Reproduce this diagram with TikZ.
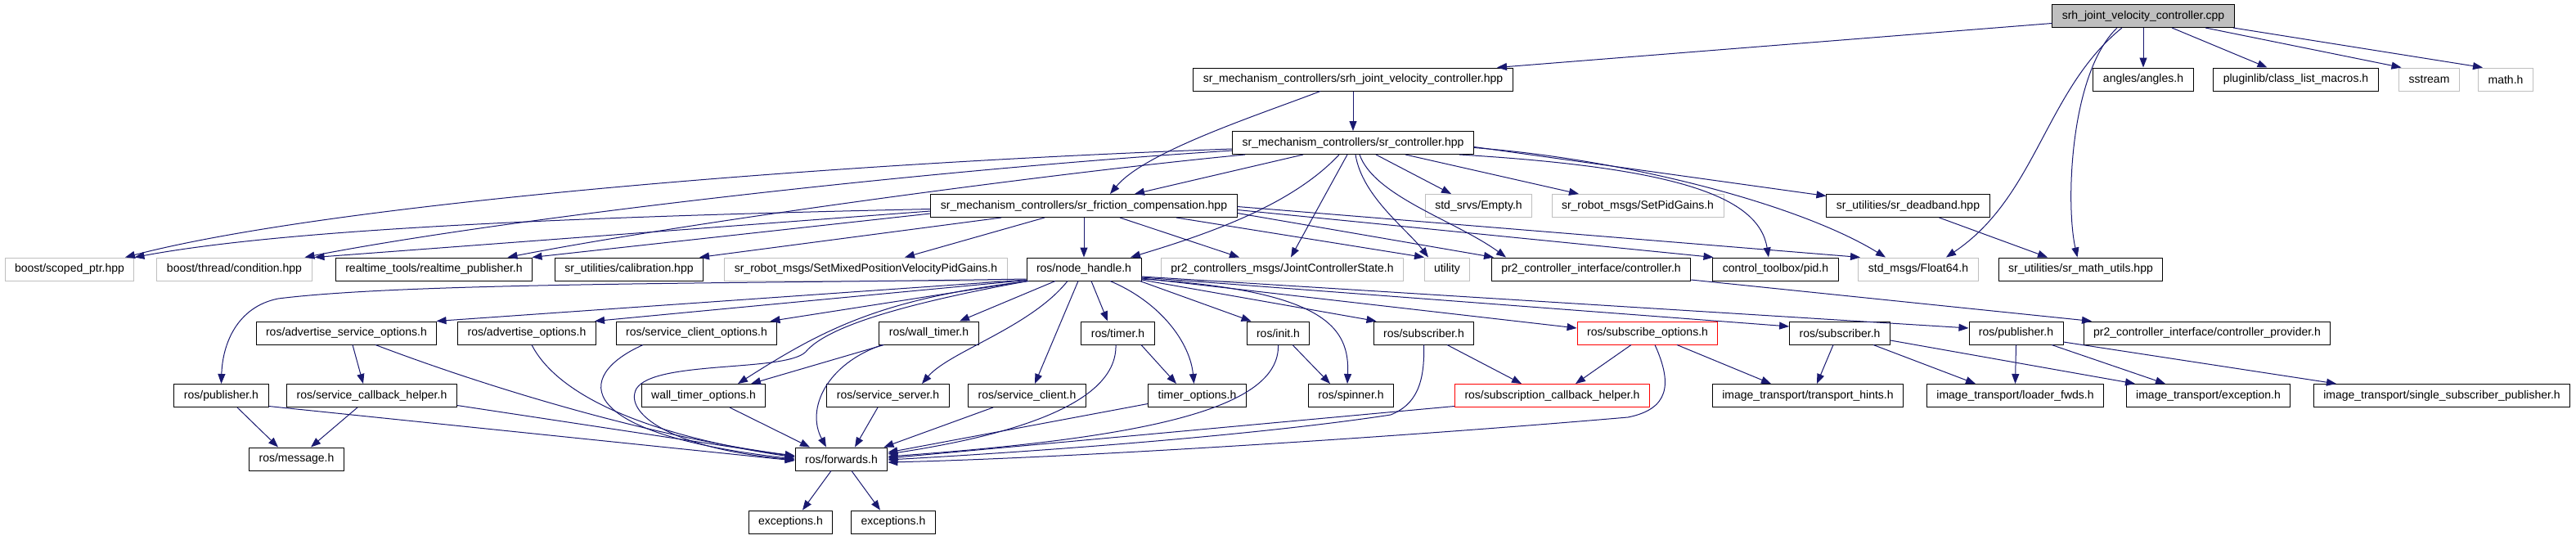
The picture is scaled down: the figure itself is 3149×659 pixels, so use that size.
\documentclass[tikz,border=0pt]{standalone}
\usepackage{fontspec}
\setmainfont{Liberation Sans}
\usetikzlibrary{arrows.meta,positioning}

\definecolor{edgeblue}{HTML}{191970}
\definecolor{missgray}{HTML}{BFBFBF}

\tikzset{
  hfile/.style={draw=black,line width=1pt,minimum height=28pt,inner xsep=12pt,inner ysep=0pt,font=\fontsize{14}{16}\selectfont},
  sysfile/.style={hfile,draw=missgray},
  badfile/.style={hfile,draw=red},
  mainfile/.style={hfile,fill=missgray},
  dep/.style={->,draw=edgeblue,line width=1pt}
}

\begin{document}
\begin{tikzpicture}[x=1pt,y=-1pt,>={Triangle[length=12pt,width=9pt]}]
    \path[fill=white] (0,0) rectangle (3149,659);

    % row 1 and 2
    \node[mainfile] (cpp) at (2620,19.5) {srh\_joint\_velocity\_controller.cpp};
    \node[hfile] (jvchpp) at (1654,97) {sr\_mechanism\_controllers/srh\_joint\_velocity\_controller.hpp};
    \node[hfile] (angles) at (2620,97) {angles/angles.h};
    \node[hfile] (pluginlib) at (2806.5,97) {pluginlib/class\_list\_macros.h};
    \node[sysfile] (sstream) at (2969.5,97) {sstream};
    \node[sysfile] (mathh) at (3063,97) {math.h};

    % row 3 and 4
    \node[hfile] (srctrl) at (1654,174.5) {sr\_mechanism\_controllers/sr\_controller.hpp};
    \node[hfile] (friction) at (1325,251.5) {sr\_mechanism\_controllers/sr\_friction\_compensation.hpp};
    \node[sysfile] (empty) at (1807.5,251.5) {std\_srvs/Empty.h};
    \node[sysfile] (setpid) at (2002,251.5) {sr\_robot\_msgs/SetPidGains.h};
    \node[hfile] (deadband) at (2332.5,251.5) {sr\_utilities/sr\_deadband.hpp};

    % row 5
    \node[sysfile] (scoped) at (85,329) {boost/scoped\_ptr.hpp};
    \node[sysfile] (condition) at (286.5,329) {boost/thread/condition.hpp};
    \node[hfile] (rtpub) at (530.5,329) {realtime\_tools/realtime\_publisher.h};
    \node[hfile] (calib) at (769,329) {sr\_utilities/calibration.hpp};
    \node[sysfile] (setmixed) at (1058.5,329) {sr\_robot\_msgs/SetMixedPositionVelocityPidGains.h};
    \node[hfile] (nh) at (1325,329) {ros/node\_handle.h};
    \node[sysfile] (jcs) at (1567.5,329) {pr2\_controllers\_msgs/JointControllerState.h};
    \node[sysfile] (utility) at (1769,329) {utility};
    \node[hfile] (ctrl) at (1945,329) {pr2\_controller\_interface/controller.h};
    \node[hfile] (pid) at (2170.5,329) {control\_toolbox/pid.h};
    \node[sysfile] (float) at (2345,329) {std\_msgs/Float64.h};
    \node[hfile] (mathutils) at (2543.5,329) {sr\_utilities/sr\_math\_utils.hpp};

    % row 6
    \node[hfile] (advsrvopt) at (423.5,407) {ros/advertise\_service\_options.h};
    \node[hfile] (advopt) at (644,407) {ros/advertise\_options.h};
    \node[hfile] (srvcliopt) at (851.5,407) {ros/service\_client\_options.h};
    \node[hfile] (walltimer) at (1135.5,407) {ros/wall\_timer.h};
    \node[hfile] (timer) at (1366.5,407) {ros/timer.h};
    \node[hfile] (init) at (1562.5,407) {ros/init.h};
    \node[hfile] (sub1) at (1740.5,407) {ros/subscriber.h};
    \node[badfile] (subopt) at (2014,407) {ros/subscribe\_options.h};
    \node[hfile] (sub2) at (2249,407) {ros/subscriber.h};
    \node[hfile] (pub2) at (2464.5,407) {ros/publisher.h};
    \node[hfile] (ctrlprov) at (2698,407) {pr2\_controller\_interface/controller\_provider.h};

    % row 7
    \node[hfile] (pub1) at (270.5,483.5) {ros/publisher.h};
    \node[hfile] (srvcb) at (454.5,483.5) {ros/service\_callback\_helper.h};
    \node[hfile] (wtopt) at (860,483.5) {wall\_timer\_options.h};
    \node[hfile] (srvsrv) at (1085.5,483.5) {ros/service\_server.h};
    \node[hfile] (srvcli) at (1255.5,483.5) {ros/service\_client.h};
    \node[hfile] (tmopt) at (1463.5,483.5) {timer\_options.h};
    \node[hfile] (spinner) at (1651.5,483.5) {ros/spinner.h};
    \node[badfile] (subcb) at (1897.5,483.5) {ros/subscription\_callback\_helper.h};
    \node[hfile] (hints) at (2210,483.5) {image\_transport/transport\_hints.h};
    \node[hfile] (loader) at (2463.5,483.5) {image\_transport/loader\_fwds.h};
    \node[hfile] (exc) at (2699.5,483.5) {image\_transport/exception.h};
    \node[hfile] (ssp) at (2985,483.5) {image\_transport/single\_subscriber\_publisher.h};

    % row 8 and 9
    \node[hfile] (message) at (362.5,561) {ros/message.h};
    \node[hfile] (fwd) at (1028.5,561) {ros/forwards.h};
    \node[hfile] (exc1) at (966.5,638) {exceptions.h};
    \node[hfile] (exc2) at (1092,638) {exceptions.h};

    % srh_joint_velocity_controller.cpp
    \draw[dep] ([yshift=-9]cpp.west) -- ([xshift=176]jvchpp.north);
    \draw[dep] (cpp.south) -- (angles.north);
    \draw[dep] ([xshift=35]cpp.south) -- ([xshift=-35]pluginlib.north);
    \draw[dep] ([xshift=76]cpp.south) -- ([xshift=-34]sstream.north);
    \draw[dep] ([xshift=110]cpp.south) -- ([xshift=-28]mathh.north);
    \draw[dep] ([xshift=-26]cpp.south) .. controls (2500,110) and (2490,240) .. ([xshift=34]float.north);
    \draw[dep] ([xshift=-32]cpp.south) .. controls (2530,90) and (2525,250) .. ([xshift=-4]mathutils.north);

    % srh_joint_velocity_controller.hpp
    \draw[dep] (jvchpp.south) -- (srctrl.north);
    \draw[dep] ([xshift=-40]jvchpp.south) .. controls (1540,140) and (1400,185) .. ([xshift=32]friction.north);

    % sr_controller.hpp
    \draw[dep] ([yshift=-7.5]srctrl.west) .. controls (1000,200) and (400,250) .. ([xshift=68]scoped.north);
    \draw[dep] ([yshift=-9.5]srctrl.west) .. controls (1100,210) and (600,270) .. ([xshift=86]condition.north);
    \draw[dep] ([xshift=-132]srctrl.south) .. controls (1300,210) and (850,270) .. ([xshift=90]rtpub.north);
    \draw[dep] ([xshift=-61]srctrl.south) -- ([xshift=62]friction.north);
    \draw[dep] ([xshift=-17]srctrl.south) .. controls (1580,250) and (1480,285) .. ([xshift=57]nh.north);
    \draw[dep] ([xshift=-7]srctrl.south) -- ([xshift=10.5]jcs.north);
    \draw[dep] ([xshift=3]srctrl.south) .. controls (1665,240) and (1720,280) .. ([xshift=-23]utility.north);
    \draw[dep] ([xshift=8]srctrl.south) .. controls (1680,240) and (1780,270) .. ([xshift=-104]ctrl.north);
    \draw[dep] ([xshift=28]srctrl.south) -- ([xshift=-33.5]empty.north);
    \draw[dep] ([xshift=64]srctrl.south) -- ([xshift=-72]setpid.north);
    \draw[dep] ([xshift=130]srctrl.south) .. controls (2050,205) and (2150,240) .. ([xshift=-8.5]pid.north);
    \draw[dep] ([yshift=-6]srctrl.east) .. controls (1990,195) and (2200,250) .. ([xshift=-40]float.north);
    \draw[dep] ([yshift=-5]srctrl.east) -- ([yshift=12]deadband.west);

    % sr_friction_compensation.hpp
    \draw[dep] ([yshift=-4]friction.west) .. controls (700,265) and (350,280) .. (scoped.north east);
    \draw[dep] ([yshift=-6.5]friction.west) -- ([xshift=98]condition.north);
    \draw[dep] ([yshift=-9.5]friction.west) -- ([xshift=120]rtpub.north);
    \draw[dep] ([xshift=-101]friction.south) -- ([xshift=86]calib.north);
    \draw[dep] ([xshift=-48]friction.south) -- ([xshift=47.5]setmixed.north);
    \draw[dep] (friction.south) -- (nh.north);
    \draw[dep] ([xshift=44]friction.south) -- ([xshift=-52.5]jcs.north);
    \draw[dep] ([xshift=113]friction.south) -- ([xshift=-28]utility.north);
    \draw[dep] ([yshift=-9]friction.east) -- ([xshift=-119]ctrl.north);
    \draw[dep] ([yshift=-5]friction.east) -- ([xshift=-76]pid.north);
    \draw[dep] ([yshift=-1]friction.east) -- ([xshift=-71]float.north);

    \draw[dep] ([xshift=38]deadband.south) -- ([xshift=-40.5]mathutils.north);
    \draw[dep] ([yshift=-13]ctrl.east) -- ([xshift=-141]ctrlprov.north);

    % ros/node_handle.h
    \draw[dep] ([yshift=-12]nh.west) .. controls (900,347) and (500,345) .. (340,365) .. controls (290,375) and (272,420) .. (pub1.north);
    \draw[dep] ([yshift=-13]nh.west) -- ([xshift=110]advsrvopt.north);
    \draw[dep] ([yshift=-13.5]nh.west) -- ([xshift=83]advopt.north);
    \draw[dep] ([xshift=1]nh.south west) -- ([xshift=90]srvcliopt.north);
    \draw[dep] ([xshift=3]nh.south west) .. controls (1080,365) and (1010,400) .. ([xshift=42]wtopt.north);
    \draw[dep] ([xshift=2]nh.south west) .. controls (1100,372) and (1010,400) .. (985,430) .. controls (960,455) and (800,440) .. (778,475) .. controls (762,505) and (820,548) .. ([yshift=-1]fwd.west);
    \draw[dep] ([xshift=-35]nh.south) -- ([xshift=37.5]walltimer.north);
    \draw[dep] ([xshift=-20]nh.south) .. controls (1260,400) and (1160,430) .. ([xshift=41.5]srvsrv.north);
    \draw[dep] ([xshift=-7]nh.south) -- ([xshift=9.5]srvcli.north);
    \draw[dep] ([xshift=9]nh.south) -- ([xshift=-12.5]timer.north);
    \draw[dep] ([xshift=32]nh.south) .. controls (1420,370) and (1455,420) .. ([xshift=-4]tmopt.north);
    \draw[dep] ([xshift=-2]nh.south east) -- ([xshift=-33]init.north);
    \draw[dep] ([yshift=-12]nh.east) .. controls (1620,355) and (1650,400) .. ([xshift=-4.5]spinner.north);
    \draw[dep] ([yshift=-13]nh.east) -- ([xshift=-58]sub1.north);
    \draw[dep] ([yshift=-11]nh.east) -- ([yshift=6]subopt.west);
    \draw[dep] ([yshift=-10]nh.east) -- ([yshift=8]sub2.west);
    \draw[dep] ([yshift=-9]nh.east) -- ([yshift=6]pub2.west);

    % row 6 to row 7 and 8
    \draw[dep] ([xshift=7.5]advsrvopt.south) -- ([xshift=-10.5]srvcb.north);
    \draw[dep] ([xshift=35.5]advsrvopt.south) .. controls (600,475) and (800,535) .. ([yshift=4]fwd.west);
    \draw[dep] ([xshift=6]advopt.south) .. controls (680,480) and (780,530) .. ([yshift=2]fwd.west);
    \draw[dep] ([xshift=-65.5]srvcliopt.south) .. controls (700,460) and (700,530) .. (fwd.west);
    \draw[dep] ([xshift=-55]walltimer.south) -- ([xshift=58]wtopt.north);
    \draw[dep] ([xshift=-57]walltimer.south) .. controls (1010,445) and (985,500) .. ([xshift=-18.5]fwd.north);
    \draw[dep] ([xshift=28.5]timer.south) -- ([xshift=-25.5]tmopt.north);
    \draw[dep] ([xshift=-2.5]timer.south) .. controls (1366,490) and (1250,530) .. ([yshift=6]fwd.east);
    \draw[dep] ([xshift=17.5]init.south) -- ([xshift=-25.5]spinner.north);
    \draw[dep] (init.south) .. controls (1565,500) and (1400,535) .. ([yshift=3]fwd.east);
    \draw[dep] ([xshift=28.5]sub1.south) -- ([xshift=-37.5]subcb.north);
    \draw[dep] (sub1.south) .. controls (1742,470) and (1730,495) .. (1700,507) .. controls (1550,530) and (1300,550) .. ([yshift=-1]fwd.east);
    \draw[dep] ([xshift=-20]subopt.south) -- ([xshift=28.5]subcb.north);
    \draw[dep] ([xshift=9]subopt.south) .. controls (2045,470) and (2040,500) .. (1990,510) .. controls (1700,535) and (1300,560) .. ([yshift=-4]fwd.east);
    \draw[dep] ([xshift=36]subopt.south) -- ([xshift=-45]hints.north);
    \draw[dep] ([xshift=-8]sub2.south) -- ([xshift=11]hints.north);
    \draw[dep] ([xshift=41]sub2.south) -- ([xshift=-48.5]loader.north);
    \draw[dep] ([yshift=-9]sub2.east) -- ([xshift=-89.5]exc.north);
    \draw[dep] (pub2.south) -- (loader.north);
    \draw[dep] ([xshift=43.5]pub2.south) -- ([xshift=-52.5]exc.north);
    \draw[dep] ([yshift=-11]pub2.east) -- ([xshift=-129]ssp.north);

    % row 7 to ros/forwards.h
    \draw[dep] ([xshift=19.5]pub1.south) -- ([xshift=-22.5]message.north);
    \draw[dep] ([yshift=-13]pub1.east) -- ([yshift=-2]fwd.west);
    \draw[dep] ([xshift=-17.5]srvcb.south) -- ([xshift=17.5]message.north);
    \draw[dep] ([yshift=-12]srvcb.east) -- ([yshift=3]fwd.west);
    \draw[dep] ([xshift=32]wtopt.south) -- ([xshift=-38.5]fwd.north);
    \draw[dep] ([xshift=-12.5]srvsrv.south) -- ([xshift=16.5]fwd.north);
    \draw[dep] ([xshift=-41.5]srvcli.south) -- ([xshift=52]fwd.north);
    \draw[dep] ([yshift=-10]tmopt.west) -- ([yshift=8]fwd.east);
    \draw[dep] ([yshift=-13]subcb.west) -- ([yshift=1]fwd.east);

    \draw[dep] ([xshift=-12.5]fwd.south) -- ([xshift=14.5]exc1.north);
    \draw[dep] ([xshift=12.5]fwd.south) -- ([xshift=-16]exc2.north);

\end{tikzpicture}
\end{document}
